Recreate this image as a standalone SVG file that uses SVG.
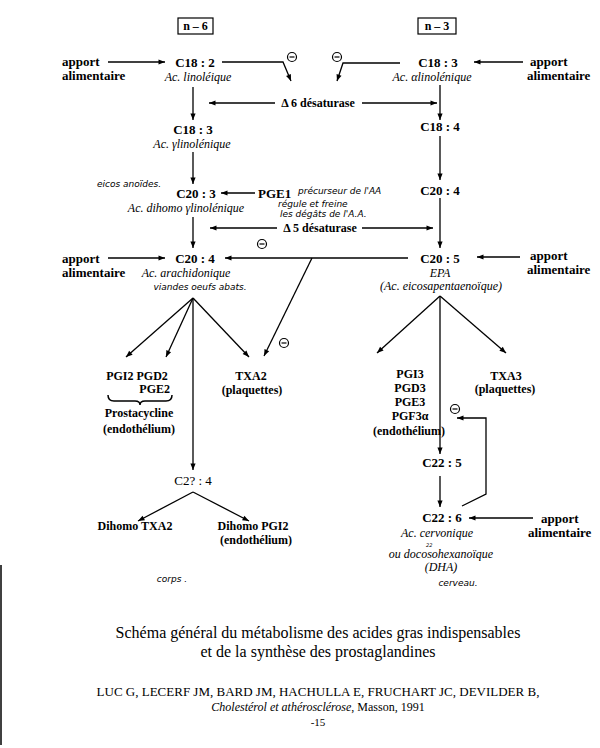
<svg xmlns="http://www.w3.org/2000/svg" width="600" height="748" viewBox="0 0 600 748">
<style>
.n{font-family:"Liberation Serif","DejaVu Serif",serif;font-weight:bold;font-size:13px;fill:#000}
.i{font-family:"Liberation Serif",serif;font-style:italic;font-size:12px;fill:#000}
.b{font-family:"Liberation Serif","DejaVu Serif",serif;font-weight:bold;font-size:12px;fill:#000}
.a{font-family:"Liberation Serif","DejaVu Serif",serif;font-weight:bold;font-size:13px;fill:#000}
.h{font-family:"DejaVu Sans",sans-serif;font-style:italic;font-size:9px;fill:#000}
.t{font-family:"Liberation Serif",serif;font-size:16px;fill:#000}
.r{font-family:"Liberation Serif",serif;font-size:13px;fill:#000}
.c line,.c path{stroke:#000;stroke-width:1.3;fill:none}
</style>
<defs>
<marker id="ah" viewBox="0 0 10 10" refX="10" refY="5" markerWidth="6" markerHeight="5" orient="auto"><path d="M0,1 L10,5 L0,9 z" fill="#000"/></marker>
<g id="theta"><circle cx="0" cy="0" r="4.5" fill="#fff" stroke="#000" stroke-width="1.2"/><line x1="-2.5" y1="0" x2="2.5" y2="0" stroke="#000" stroke-width="1.2"/></g>
</defs>
<rect width="600" height="748" fill="#fff"/>
<line x1="1" y1="565" x2="1" y2="745" stroke="#000" stroke-width="1.5"/>

<g id="box-n6"><rect x="178" y="18" width="35" height="16" fill="none" stroke="#000" stroke-width="1.2"/><text class="b" x="195.5" y="30" text-anchor="middle">n – 6</text></g>
<g id="box-n3"><rect x="418" y="18" width="38" height="16" fill="none" stroke="#000" stroke-width="1.2"/><text class="b" x="437" y="30" text-anchor="middle">n – 3</text></g>

<g class="c" id="connectors">
<line x1="108" y1="62" x2="165" y2="62" marker-end="url(#ah)"/>
<path d="M222,62 H283 L291,81" marker-end="url(#ah)"/>
<path d="M400,63 H343 L337,81" marker-end="url(#ah)"/>
<line x1="523" y1="62" x2="474" y2="62" marker-end="url(#ah)"/>
<line x1="193" y1="87" x2="193" y2="120" marker-end="url(#ah)"/>
<line x1="275" y1="103" x2="209" y2="103" marker-end="url(#ah)"/>
<line x1="362" y1="103" x2="437" y2="103" marker-end="url(#ah)"/>
<line x1="440" y1="85" x2="440" y2="120" marker-end="url(#ah)"/>
<line x1="193" y1="152" x2="193" y2="184" marker-end="url(#ah)"/>
<line x1="440" y1="136" x2="440" y2="180" marker-end="url(#ah)"/>
<line x1="255" y1="193" x2="221" y2="193" marker-end="url(#ah)"/>
<line x1="193" y1="217" x2="193" y2="248" marker-end="url(#ah)"/>
<line x1="277" y1="228" x2="210" y2="228" marker-end="url(#ah)"/>
<line x1="362" y1="228" x2="433" y2="228" marker-end="url(#ah)"/>
<line x1="440" y1="198" x2="440" y2="248" marker-end="url(#ah)"/>
<line x1="108" y1="258" x2="165" y2="258" marker-end="url(#ah)"/>
<line x1="408" y1="258" x2="225" y2="258" marker-end="url(#ah)"/>
<line x1="312" y1="258" x2="264" y2="356" marker-end="url(#ah)"/>
<line x1="520" y1="257" x2="477" y2="257" marker-end="url(#ah)"/>
<line x1="193" y1="298" x2="126" y2="357" marker-end="url(#ah)"/>
<line x1="193" y1="298" x2="166" y2="357" marker-end="url(#ah)"/>
<line x1="193" y1="298" x2="193" y2="470" marker-end="url(#ah)"/>
<line x1="193" y1="298" x2="249" y2="357" marker-end="url(#ah)"/>
<line x1="440" y1="296" x2="377" y2="353" marker-end="url(#ah)"/>
<line x1="440" y1="296" x2="440" y2="454" marker-end="url(#ah)"/>
<line x1="440" y1="296" x2="506" y2="353" marker-end="url(#ah)"/>
<line x1="440" y1="476" x2="440" y2="507" marker-end="url(#ah)"/>
<path d="M462,506 L486,494 V418 H457" marker-end="url(#ah)"/>
<line x1="533" y1="518" x2="469" y2="518" marker-end="url(#ah)"/>
<line x1="193" y1="492" x2="138" y2="521" marker-end="url(#ah)"/>
<line x1="193" y1="492" x2="249" y2="521" marker-end="url(#ah)"/>
<path d="M108,395 q0,6 6,6 h21 q5,0 5,4 q0,-4 5,-4 h21 q6,0 6,-6" style="stroke-width:1.5"/>
</g>

<g id="inhibitors">
<use href="#theta" x="292" y="57"/>
<use href="#theta" x="337" y="57"/>
<use href="#theta" x="262" y="244"/>
<use href="#theta" x="284" y="343"/>
<use href="#theta" x="455" y="409"/>
</g>

<g id="apport1"><text class="a" x="62" y="66">apport</text><text class="a" x="62" y="80">alimentaire</text></g>
<g id="c18-2"><text class="n" x="195" y="67" text-anchor="middle">C18 : 2</text><text class="i" x="198" y="81" text-anchor="middle">Ac. linoléique</text></g>
<g id="c18-3n3"><text class="n" x="438" y="67" text-anchor="middle">C18 : 3</text><text class="i" x="432" y="81" text-anchor="middle">Ac. αlinolénique</text></g>
<g id="apport2"><text class="a" x="530" y="66">apport</text><text class="a" x="527" y="80">alimentaire</text></g>
<g id="d6"><text class="b" x="318" y="107" text-anchor="middle">Δ 6 désaturase</text></g>
<g id="c18-3n6"><text class="n" x="193" y="134" text-anchor="middle">C18 : 3</text><text class="i" x="192" y="148" text-anchor="middle">Ac. γlinolénique</text></g>
<g id="c18-4"><text class="n" x="440" y="131" text-anchor="middle">C18 : 4</text></g>
<g id="eicos"><text class="h" x="97" y="187">eicos anoïdes.</text></g>
<g id="c20-3"><text class="n" x="196" y="198" text-anchor="middle">C20 : 3</text><text class="i" x="186" y="212" text-anchor="middle">Ac. dihomo γlinolénique</text></g>
<g id="pge1"><text class="n" x="258" y="198">PGE1</text></g>
<g id="notes"><text class="h" x="298" y="194">précurseur de l'AA</text><text class="h" x="278" y="207">régule et freine</text><text class="h" x="280" y="217">les dégâts de l'A.A.</text></g>
<g id="c20-4n3"><text class="n" x="440" y="195" text-anchor="middle">C20 : 4</text></g>
<g id="d5"><text class="b" x="320" y="232" text-anchor="middle">Δ 5 désaturase</text></g>
<g id="apport3"><text class="a" x="62" y="263">apport</text><text class="a" x="62" y="277">alimentaire</text></g>
<g id="c20-4"><text class="n" x="195" y="263" text-anchor="middle">C20 : 4</text><text class="i" x="186" y="277" text-anchor="middle">Ac. arachidonique</text><text class="h" x="200" y="290" text-anchor="middle">viandes oeufs abats.</text></g>
<g id="c20-5"><text class="n" x="440" y="263" text-anchor="middle">C20 : 5</text><text class="i" x="440" y="277" text-anchor="middle">EPA</text><text class="i" x="441" y="290" text-anchor="middle">(Ac. eicosapentaenoïque)</text></g>
<g id="apport4"><text class="a" x="530" y="260">apport</text><text class="a" x="527" y="274">alimentaire</text></g>
<g id="pg2"><text class="b" x="137" y="380" text-anchor="middle">PGI2 PGD2</text><text class="b" x="170" y="393" text-anchor="end">PGE2</text><text class="b" x="139" y="417" text-anchor="middle">Prostacycline</text><text class="b" x="139" y="433" text-anchor="middle">(endothélium)</text></g>
<g id="txa2"><text class="b" x="251" y="380" text-anchor="middle">TXA2</text><text class="b" x="252" y="394" text-anchor="middle">(plaquettes)</text></g>
<g id="pg3"><text class="b" x="410" y="378" text-anchor="middle">PGI3</text><text class="b" x="410" y="392" text-anchor="middle">PGD3</text><text class="b" x="410" y="406" text-anchor="middle">PGE3</text><text class="b" x="410" y="420" text-anchor="middle">PGF3α</text><text class="b" x="409" y="435" text-anchor="middle">(endothélium)</text></g>
<g id="txa3"><text class="b" x="506" y="380" text-anchor="middle">TXA3</text><text class="b" x="505" y="393" text-anchor="middle">(plaquettes)</text></g>
<g id="c22-5"><text class="n" x="442" y="467" text-anchor="middle">C22 : 5</text></g>
<g id="c22-4"><text class="r" x="193" y="485" text-anchor="middle">C2? : 4</text></g>
<g id="dtxa2"><text class="b" x="135" y="530" text-anchor="middle">Dihomo TXA2</text></g>
<g id="dpgi2"><text class="b" x="253" y="530" text-anchor="middle">Dihomo PGI2</text><text class="b" x="256" y="544" text-anchor="middle">(endothélium)</text></g>
<g id="c22-6"><text class="n" x="442" y="522" text-anchor="middle">C22 : 6</text><text class="i" x="437" y="537" text-anchor="middle">Ac. cervonique</text><text class="h" x="426" y="546.5" style="font-size:5px">22</text><text class="i" x="441" y="558" text-anchor="middle">ou docosohexanoïque</text><text class="i" x="441" y="571" text-anchor="middle">(DHA)</text></g>
<g id="apport5"><text class="a" x="541" y="523">apport</text><text class="a" x="528" y="537">alimentaire</text></g>
<g id="corps"><text class="h" x="172" y="582" text-anchor="middle">corps .</text></g>
<g id="cerveau"><text class="h" x="458" y="586" text-anchor="middle">cerveau.</text></g>

<g id="title"><text class="t" x="318" y="638" text-anchor="middle">Schéma général du métabolisme des acides gras indispensables</text><text class="t" x="318" y="657" text-anchor="middle">et de la synthèse des prostaglandines</text></g>
<g id="ref"><text class="r" x="318" y="696" text-anchor="middle">LUC G, LECERF JM, BARD JM, HACHULLA E, FRUCHART JC, DEVILDER B,</text><text class="r" x="318" y="711" text-anchor="middle" style="font-size:12px"><tspan font-style="italic">Cholestérol et athérosclérose</tspan>, Masson, 1991</text><text class="r" x="318" y="726" text-anchor="middle" style="font-size:11px">-15</text></g>
</svg>
